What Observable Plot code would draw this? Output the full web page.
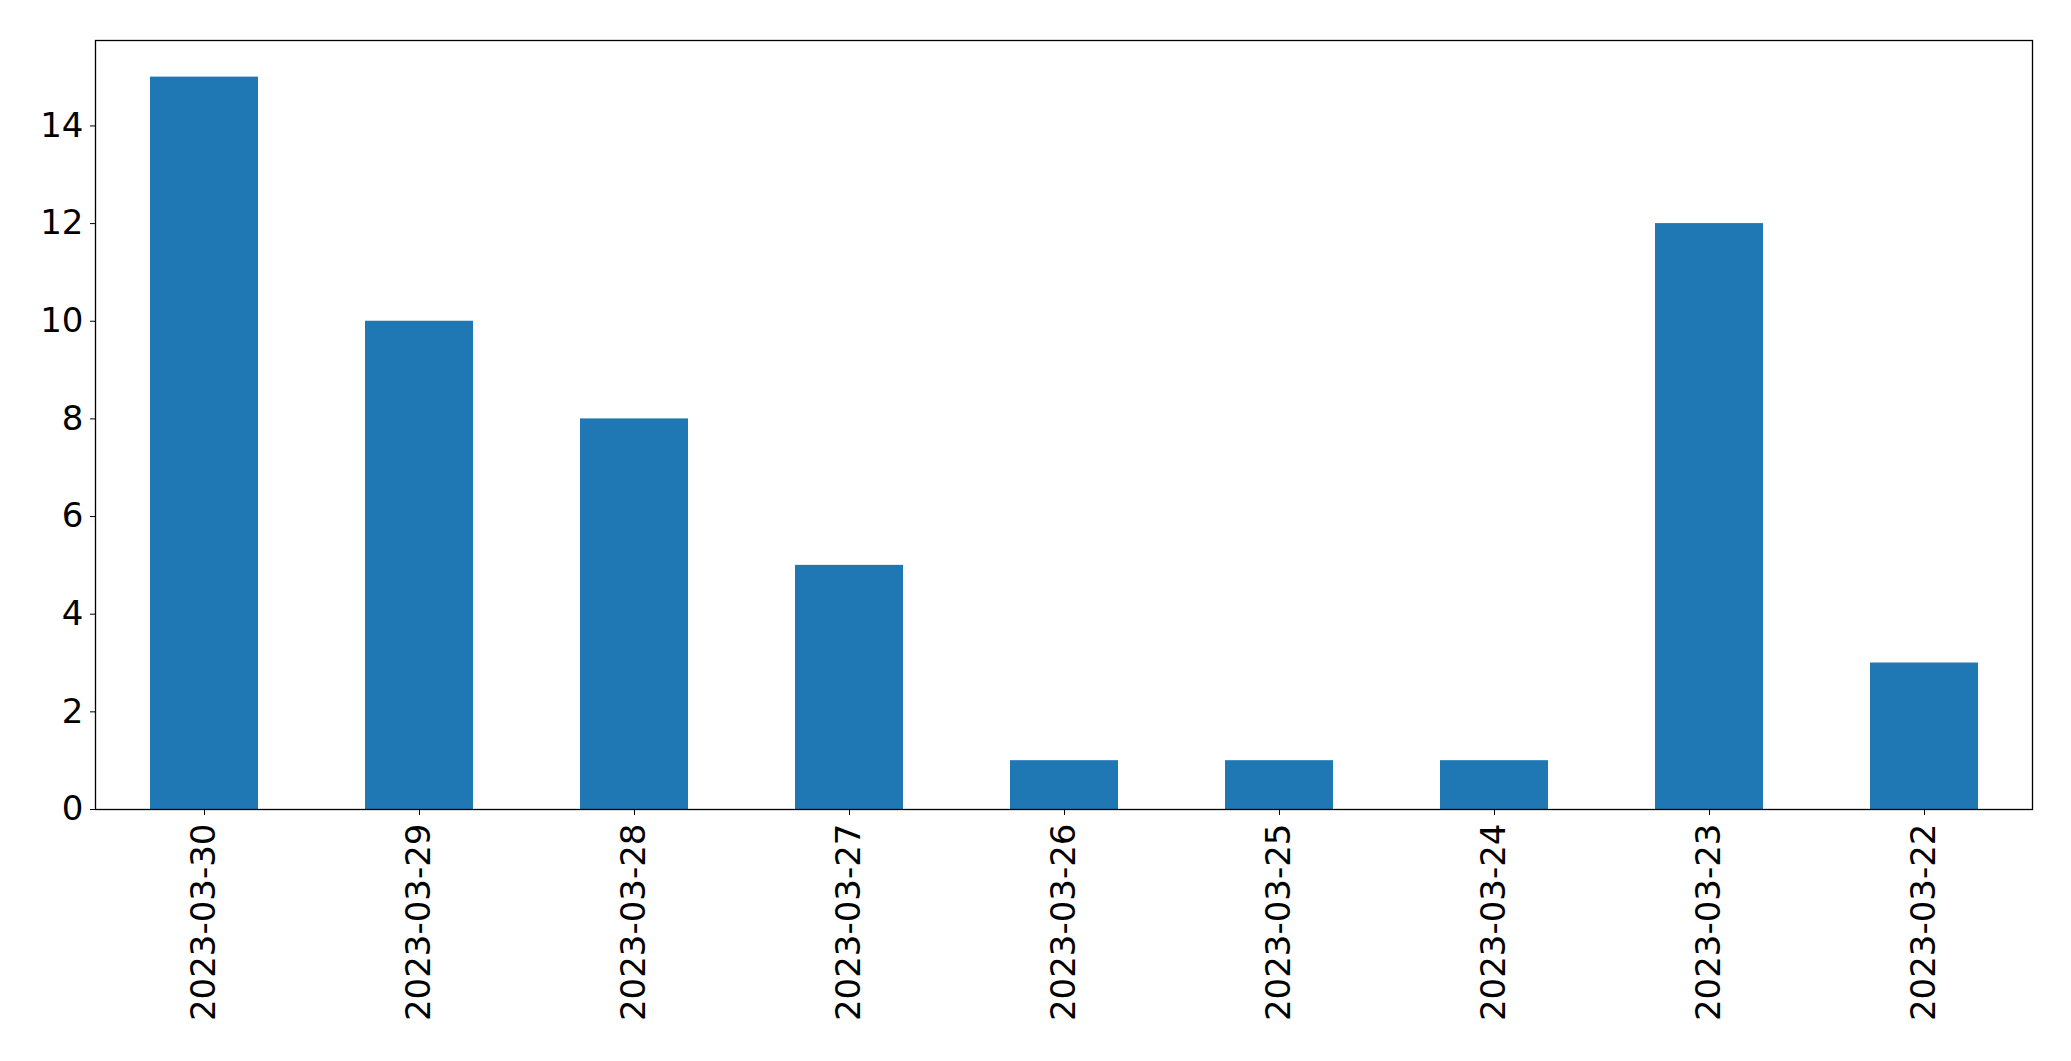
<!DOCTYPE html>
<html>
<head>
<meta charset="utf-8">
<script src="https://cdn.jsdelivr.net/npm/d3@7"></script>
<script src="https://cdn.jsdelivr.net/npm/@observablehq/plot@0.6"></script>
<style>
  html, body { margin: 0; padding: 0; background: #fff; }
  #chart svg { display: block; }
</style>
</head>
<body>
<div id="chart"></div>
<script>
const dates = ["2023-03-30", "2023-03-29", "2023-03-28", "2023-03-27", "2023-03-26", "2023-03-25", "2023-03-24", "2023-03-23", "2023-03-22"];
const counts = [15, 10, 8, 5, 1, 1, 1, 12, 3];
const yTicks = [0, 2, 4, 6, 8, 10, 12, 14];

const data = dates.map((d, i) => ({date: d, count: counts[i]}));

const chart = Plot.plot({
  width: 2071,
  height: 1061,
  marginLeft: 95,
  marginRight: 39,
  marginTop: 40,
  marginBottom: 252,
  style: {fontFamily: "DejaVu Sans", background: "#fff", color: "#000"},
  x: {type: "band", domain: dates, paddingInner: 0.5, paddingOuter: 0.25},
  y: {domain: [0, 15.75]},
  marks: [
    Plot.barY(data, {x: "date", y: "count", fill: "#1f77b4"}),
    Plot.frame({stroke: "#000", strokeWidth: 1.3}),
    Plot.axisY({ticks: yTicks, tickSize: 5, tickPadding: 7, fontSize: 34, label: null, tickFormat: d => String(d)}),
    Plot.axisX({tickSize: 6, tickPadding: 8, tickRotate: -90, fontSize: 34, label: null})
  ]
});
document.getElementById("chart").appendChild(chart);
</script>
</body>
</html>
